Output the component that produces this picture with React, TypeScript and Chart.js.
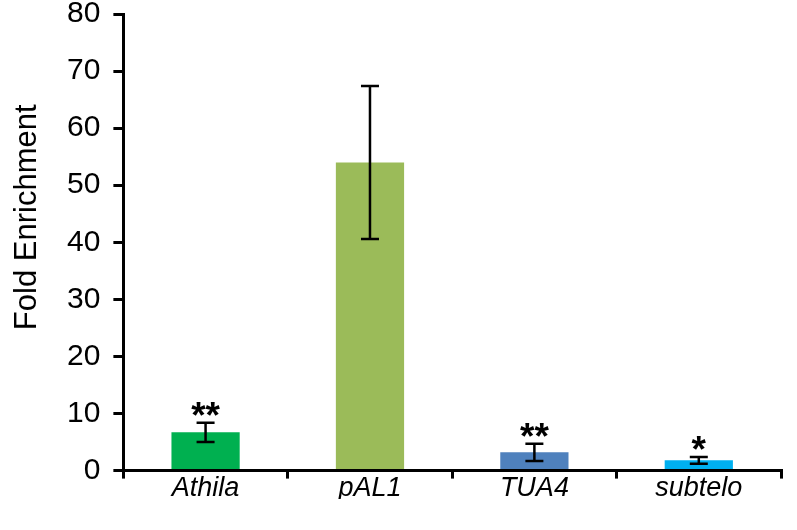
import React, { useEffect, useRef } from "react";
import { Chart, registerables } from "chart.js";

Chart.register(...registerables);

const categories = ["Athila", "pAL1", "TUA4", "subtelo"];
const values = [6.7, 54.0, 3.2, 1.8];
const errors = [1.7, 13.4, 1.5, 0.6];
const colors = ["#00B050", "#9BBB59", "#4F81BD", "#00B0F0"];
const significance = ["**", "", "**", "*"];
const yTicks = [0, 10, 20, 30, 40, 50, 60, 70, 80];
const yTitle = "Fold Enrichment";

const FONT = "'Liberation Sans', Arial, sans-serif";

const errorPlugin = {
  id: "errorBars",
  afterDatasetsDraw(chart: any) {
    const ctx = chart.ctx;
    const meta = chart.getDatasetMeta(0);
    const y = chart.scales.y;
    ctx.save();
    meta.data.forEach((bar: any, i: number) => {
      const x = bar.x;
      const top = y.getPixelForValue(values[i] + errors[i]);
      const bot = y.getPixelForValue(values[i] - errors[i]);
      ctx.strokeStyle = "#000";
      ctx.lineWidth = 2.5;
      ctx.beginPath();
      ctx.moveTo(x, top);
      ctx.lineTo(x, bot);
      ctx.moveTo(x - 9, top);
      ctx.lineTo(x + 9, top);
      ctx.moveTo(x - 9, bot);
      ctx.lineTo(x + 9, bot);
      ctx.stroke();
      if (significance[i]) {
        ctx.fillStyle = "#000";
        ctx.font = `bold 37px ${FONT}`;
        ctx.textAlign = "center";
        ctx.textBaseline = "alphabetic";
        ctx.fillText(significance[i], x, top + 5);
      }
    });
    // y-axis title, placed slightly above the axis centre as in the original
    const area = chart.chartArea;
    const cy = (area.top + area.bottom) / 2 - 25;
    ctx.translate(27, cy);
    ctx.rotate(-Math.PI / 2);
    ctx.fillStyle = "#000";
    ctx.font = `31px ${FONT}`;
    ctx.textAlign = "center";
    ctx.textBaseline = "middle";
    ctx.fillText(yTitle, 0, 0);
    ctx.restore();
  },
};

export default function App() {
  const ref = useRef<HTMLCanvasElement | null>(null);
  useEffect(() => {
    if (!ref.current) return;
    const chart = new Chart(ref.current, {
      type: "bar",
      data: {
        labels: categories,
        datasets: [
          {
            data: values,
            backgroundColor: colors,
            barPercentage: 0.83,
            categoryPercentage: 0.5,
          },
        ],
      },
      options: {
        animation: false,
        responsive: false,
        maintainAspectRatio: false,
        layout: { padding: { top: 0, right: 16, bottom: 24, left: 54 } },
        plugins: { legend: { display: false }, tooltip: { enabled: false } },
        scales: {
          x: {
            grid: {
              display: true,
              drawOnChartArea: false,
              drawTicks: true,
              tickLength: 8,
              color: "#000",
              lineWidth: 3,
              offset: true,
            },
            border: { display: true, color: "#000", width: 3 },
            ticks: {
              color: "#000",
              padding: -6,
              font: { family: FONT, size: 27, style: "italic" },
            },
          },
          y: {
            min: 0,
            max: 80,
            afterBuildTicks: (s: any) => {
              s.ticks = yTicks.map((v) => ({ value: v }));
            },
            grid: {
              display: true,
              drawOnChartArea: false,
              drawTicks: true,
              tickLength: 10,
              color: "#000",
              lineWidth: 3,
            },
            border: { display: true, color: "#000", width: 3 },
            ticks: {
              color: "#000",
              padding: 13,
              font: { family: FONT, size: 30 },
            },
          },
        },
      },
      plugins: [errorPlugin],
    });
    return () => chart.destroy();
  }, []);
  return (
    <div style={{ position: "fixed", left: 0, top: 0, width: 797, height: 530, background: "#fff", overflow: "hidden" }}>
      <canvas
        ref={ref}
        width={797}
        height={540}
        style={{ position: "absolute", left: 0, top: -17, width: 797, height: 540 }}
      />
    </div>
  );
}
